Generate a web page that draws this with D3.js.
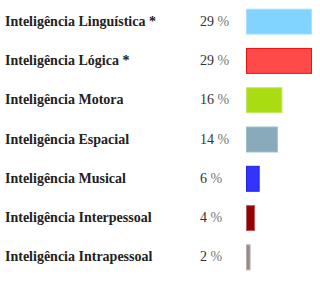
<!DOCTYPE html>
<html>
<head>
<meta charset="utf-8">
<script src="https://cdn.jsdelivr.net/npm/d3@7"></script>
<style>
  body { margin: 0; background: #fff; }
  .label { font-family: "Liberation Serif", serif; font-weight: bold; font-size: 14px; fill: #222; }
  .pct { font-family: "Liberation Serif", serif; font-size: 14px; fill: #333; }
  .pct tspan { fill: #777; }
</style>
</head>
<body>
<svg id="chart" width="320" height="283"></svg>
<script>
var categories = ['Inteligência Linguística *', 'Inteligência Lógica *', 'Inteligência Motora',
    'Inteligência Espacial', 'Inteligência Musical', 'Inteligência Interpessoal', 'Inteligência Intrapessoal'];
var values = [29, 29, 16, 14, 6, 4, 2];
var fills = ['#80d4ff', '#ff4a4a', '#aadd11', '#88aabb', '#3333ff', '#990000', '#998888'];
var strokes = ['#a8e2ff', '#ee1111', '#c4e866', '#9fbccb', '#2222dd', '#b06060', '#b8aeae'];

var svg = d3.select('#chart');

var y = d3.scaleBand()
    .domain(categories)
    .range([2, 277])
    .paddingInner(0.34)
    .paddingOuter(0.17);

var x = d3.scaleLinear()
    .domain([0, 29])
    .range([246, 312]);

var rows = svg.selectAll('g.row')
    .data(categories)
    .enter().append('g')
    .attr('class', 'row');

rows.append('rect')
    .attr('x', x(0) + 0.5)
    .attr('y', function(d) { return y(d) + 0.5; })
    .attr('width', function(d, i) { return x(values[i]) - x(0) - 1; })
    .attr('height', y.bandwidth() - 1)
    .attr('fill', function(d, i) { return fills[i]; })
    .attr('stroke', function(d, i) { return strokes[i]; })
    .attr('stroke-width', 1);

rows.append('text')
    .attr('class', 'label')
    .attr('x', 5)
    .attr('y', function(d) { return y(d) + y.bandwidth() / 2 + 4; })
    .text(function(d) { return d; });

var pct = rows.append('text')
    .attr('class', 'pct')
    .attr('x', 200)
    .attr('y', function(d) { return y(d) + y.bandwidth() / 2 + 4; })
    .text(function(d, i) { return values[i] + ' '; });
pct.append('tspan').text('%');
</script>
</body>
</html>
